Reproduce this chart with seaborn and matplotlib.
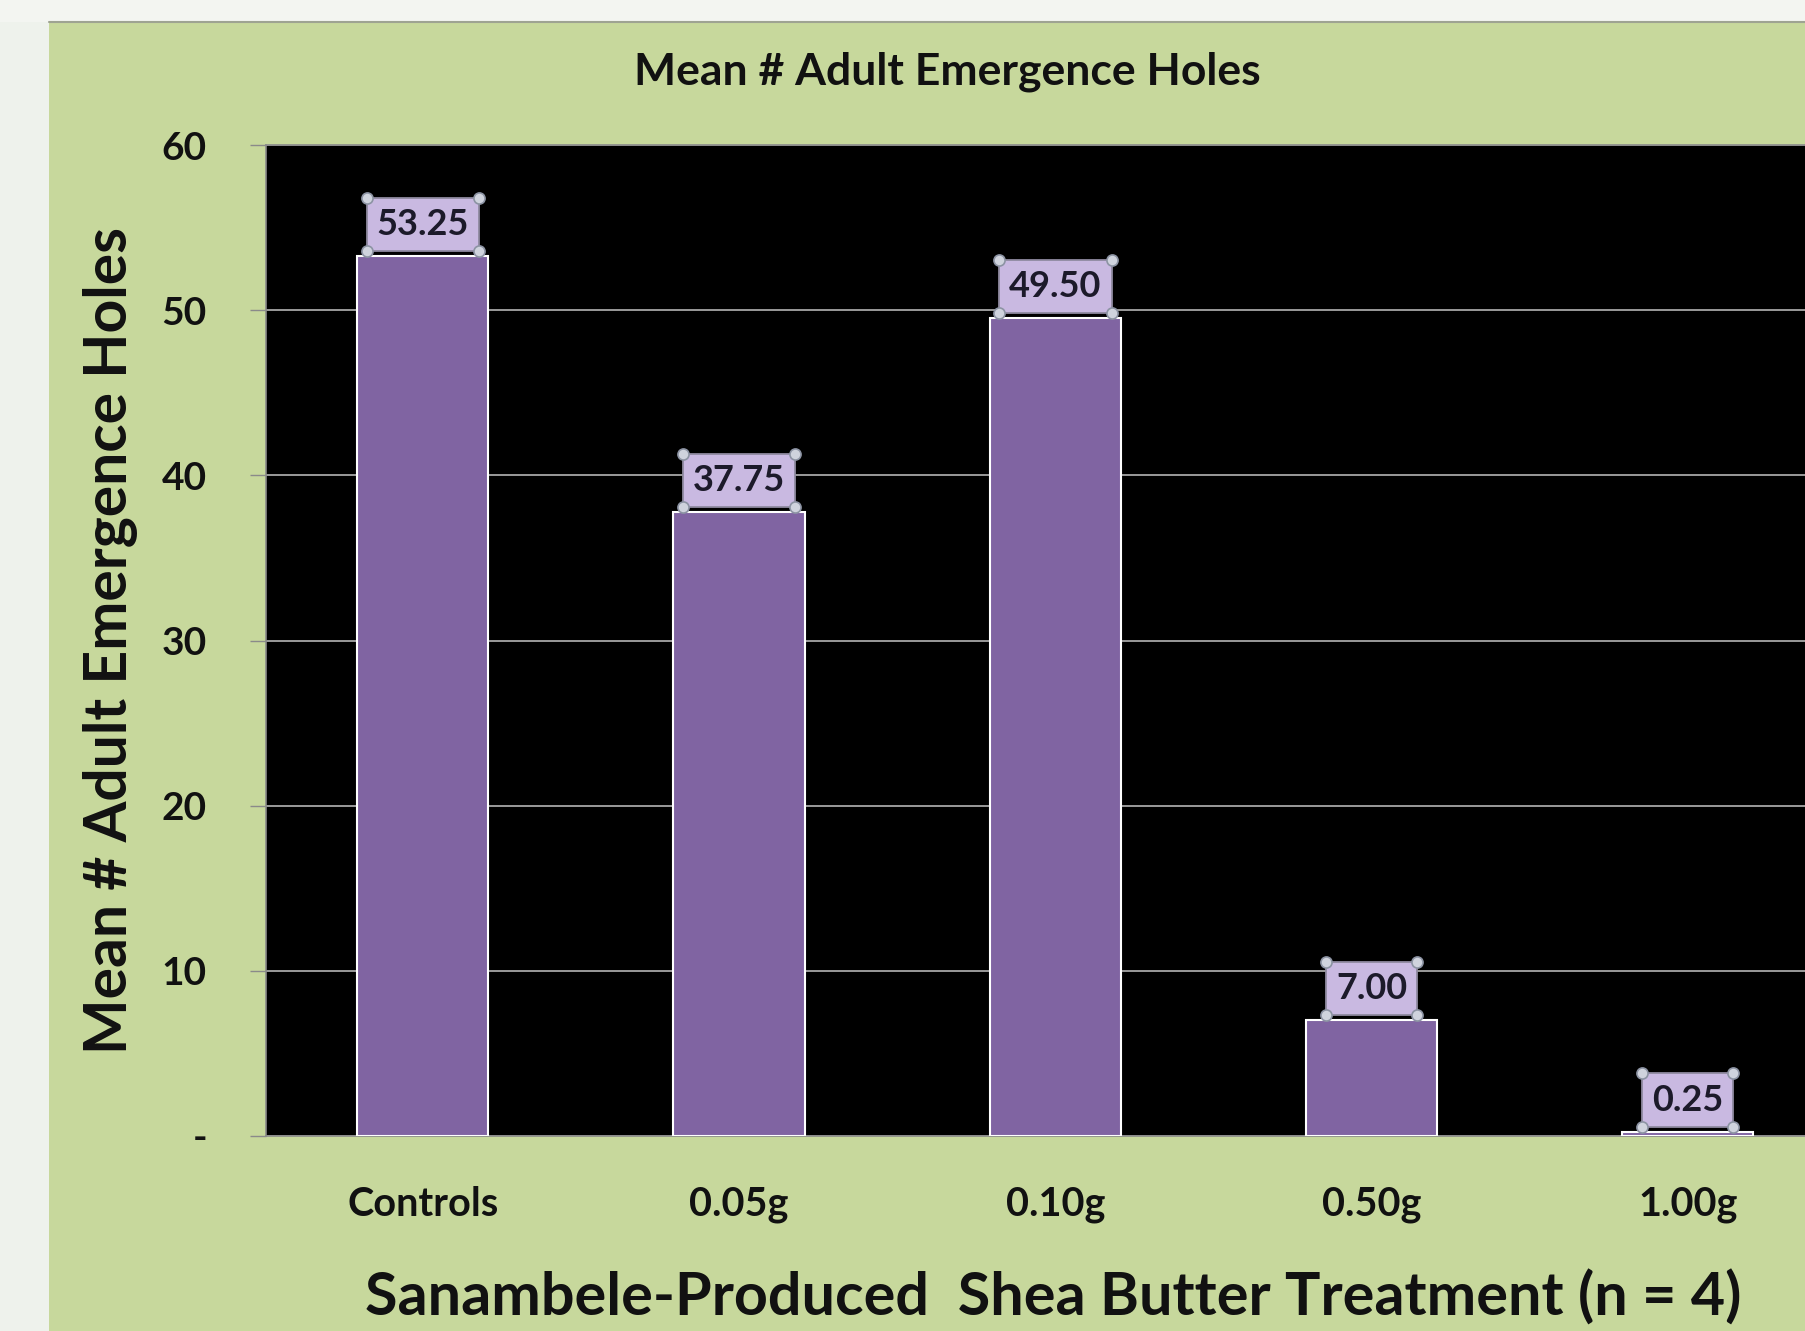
import matplotlib
matplotlib.use("Agg")
import matplotlib.pyplot as plt
import seaborn as sns
import pandas as pd
from matplotlib.patches import Rectangle
from matplotlib.lines import Line2D

# ---- data ----
categories = ["Controls", "0.05g", "0.10g", "0.50g", "1.00g"]
values = [53.25, 37.75, 49.50, 7.00, 0.25]
value_labels = ["53.25", "37.75", "49.50", "7.00", "0.25"]
y_ticks = [0, 10, 20, 30, 40, 50, 60]
y_tick_labels = ["-", "10", "20", "30", "40", "50", "60"]
title_text = "Mean # Adult Emergence Holes"
y_label = "Mean # Adult Emergence Holes"
x_label = "Sanambele-Produced  Shea Butter Treatment (n = 4)"

W, H = 1806, 1331
sns.set_theme(style="white")
plt.rcParams["font.family"] = ["Lato", "DejaVu Sans"]

fig = plt.figure(figsize=(W / 100, H / 100), dpi=100, facecolor="#eef2ec")

# green slide panel
fig.patches.append(Rectangle((0, 1 - 22 / H), 1, 22 / H, transform=fig.transFigure,
                             facecolor="#f3f5f1", edgecolor="none", zorder=-20))
fig.patches.append(Rectangle((49 / W, 0), 1, 1 - 22 / H, transform=fig.transFigure,
                             facecolor="#c7d89c", edgecolor="none", zorder=-20))
fig.add_artist(Line2D([49 / W, 1], [1 - 22 / H, 1 - 22 / H], transform=fig.transFigure,
                      color="#9ea392", lw=1.5, zorder=-19))

ax = fig.add_axes([266 / W, 1 - 1136 / H, 1 - 266 / W, (1136 - 145) / H])
ax.set_facecolor("black")

df = pd.DataFrame({"Treatment": categories, "Mean": values})
sns.barplot(data=df, x="Treatment", y="Mean", color="#8064a2", saturation=1,
            width=0.415, edgecolor="white", linewidth=1.5, ax=ax, zorder=3)

ax.set_xlim(-0.496, 4.374)
ax.set_ylim(0, 60)
ax.set_yticks(y_ticks)
ax.set_yticklabels(y_tick_labels, fontsize=28, fontweight="bold", color="#111111")
ax.set_xticks(range(len(categories)))
ax.set_xticklabels(categories, fontsize=28.5, fontweight="bold", color="#111111")
ax.tick_params(axis="y", left=True, length=11.5, width=1, color="#8a8a8a", pad=31)
ax.tick_params(axis="x", bottom=False, length=0, pad=36)
ax.yaxis.grid(True, color="#c4c4c4", lw=1.1)
ax.set_axisbelow(True)
for s in ax.spines.values():
    s.set_color("#8a8a8a")
    s.set_linewidth(1.2)

ax.set_ylabel(y_label, fontsize=42.3, fontweight="bold", color="#111111")
ax.yaxis.set_label_coords(-0.1010, 0.5005)
ax.yaxis.label.set_va("center")
ax.set_xlabel(x_label, fontsize=42.7, fontweight="bold", color="#111111")
ax.xaxis.set_label_coords(0.511, -0.1625)
ax.xaxis.label.set_va("center")

fig.text(947 / W, 1 - 72 / H, title_text, ha="center", va="center",
         fontsize=32, fontweight="bold", color="#111111")

anns = ax.bar_label(ax.containers[0], labels=value_labels, padding=11,
                    fontsize=26, fontweight="bold", color="#1c1a2a",
                    bbox=dict(boxstyle="square,pad=0.28", fc="#c9b9e1", ec="#8f8aa0", lw=1.3))

fig.canvas.draw()
renderer = fig.canvas.get_renderer()
inv = fig.transFigure.inverted()
for a in anns:
    bb = a.get_bbox_patch().get_window_extent(renderer)
    (x0, y0), (x1, y1) = inv.transform([[bb.x0, bb.y0], [bb.x1, bb.y1]])
    fig.add_artist(Line2D([x0, x1, x0, x1], [y0, y0, y1, y1], transform=fig.transFigure,
                          ls="none", marker="o", ms=8, mfc="#cfd3dd", mec="#8c93a3", mew=1.2))

fig.savefig("out.png", dpi=100, facecolor=fig.get_facecolor())
